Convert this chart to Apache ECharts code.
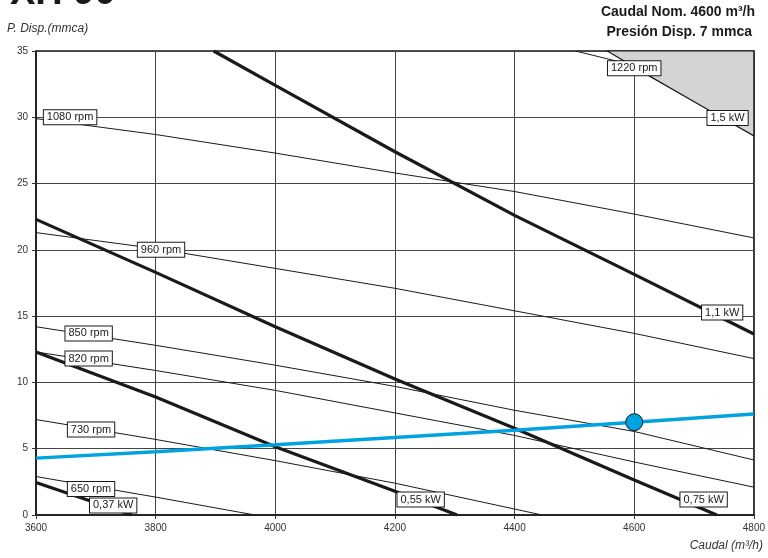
<!DOCTYPE html>
<html>
<head>
<meta charset="utf-8">
<script src="https://cdn.jsdelivr.net/npm/echarts@6/dist/echarts.min.js"></script>
<style>
html,body{margin:0;padding:0;background:#fff;}
#chart{width:768px;height:558px;}
</style>
</head>
<body>
<div id="chart"></div>
<script>
// ---- Data (caudal m3/h, presión mmca) ----
const rpm1220 = [[4502,35],[4610,33.8]];
const rpm1080 = [[3600,29.9],[3800,28.7],[4000,27.3],[4200,25.8],[4400,24.4],[4600,22.7],[4800,20.9]];
const rpm960  = [[3600,21.3],[3800,20.1],[4000,18.6],[4200,17.1],[4400,15.4],[4600,13.7],[4800,11.8]];
const rpm850  = [[3600,14.2],[3800,12.8],[4000,11.3],[4200,9.7],[4400,7.9],[4600,6.3],[4800,4.15]];
const rpm820  = [[3600,12.3],[3800,10.9],[4000,9.4],[4200,7.7],[4400,6.0],[4600,4.0],[4800,2.1]];
const rpm730  = [[3600,7.2],[3800,5.7],[4000,4.1],[4200,2.4],[4446,0]];
const rpm650  = [[3600,2.9],[3800,1.35],[3966,0]];

const kw037 = [[3600,2.45],[3760,0]];
const kw055 = [[3600,12.3],[3800,8.9],[4000,5.15],[4200,1.8],[4304,0]];
const kw075 = [[3600,22.3],[3800,18.3],[4000,14.2],[4200,10.26],[4400,6.54],[4600,2.64],[4738,0]];
const kw110 = [[3897,35],[4000,32.4],[4200,27.4],[4400,22.6],[4600,18.15],[4800,13.65]];
const kw150 = [[4555,35],[4622,33.2],[4722,30.6],[4800,28.6]];

const systemCurve = [[3600,4.29],[3800,4.78],[4000,5.29],[4200,5.84],[4400,6.40],[4600,7.0],[4800,7.62]];
const workPoint = [4600,7];

const curveLabels = ['1080 rpm','960 rpm','850 rpm','820 rpm','730 rpm','650 rpm','0,37 kW','0,55 kW','0,75 kW','1,1 kW','1,5 kW','1220 rpm'];
const labelQ = [3657,3809,3688,3688,3692,3692,3729,4243,4716,4747,4756,4600];
const labelP = [30.0,20.0,13.7,11.8,6.45,1.96,0.72,1.17,1.17,15.27,29.95,33.7];

const xMin = 3600, xMax = 4800, xStep = 200;
const yMin = 0, yMax = 35, yStep = 5;

// ---- Chart ----
const chart = echarts.init(document.getElementById('chart'), null, {renderer:'canvas'});
const FONT = '"Liberation Sans", Arial, sans-serif';

const thin = (data) => ({type:'line', data, symbol:'none', silent:true, z:3,
  lineStyle:{color:'#1a1a1a', width:1}});
const thick = (data) => ({type:'line', data, symbol:'none', silent:true, z:4,
  lineStyle:{color:'#1a1a1a', width:3.2}});

const grayZone = kw150.concat([[xMax, yMax]]);
const labelData = curveLabels.map((t,i) => [labelQ[i], labelP[i], t]);

chart.setOption({
  animation:false,
  backgroundColor:'#fff',
  textStyle:{fontFamily:FONT},
  grid:{left:36, right:13, top:51, bottom:43, show:true, borderColor:'#1a1a1a', borderWidth:1.5, backgroundColor:'transparent'},
  xAxis:{type:'value', min:xMin, max:xMax, interval:xStep,
    axisLine:{show:true, lineStyle:{color:'#1a1a1a', width:1.5}},
    axisTick:{show:true, length:4, lineStyle:{color:'#333'}},
    axisLabel:{fontSize:10, color:'#333', margin:8, fontFamily:FONT, formatter:(v)=>String(v)},
    splitLine:{show:true, lineStyle:{color:'#444', width:1}}},
  yAxis:{type:'value', min:yMin, max:yMax, interval:yStep,
    axisLine:{show:true, lineStyle:{color:'#1a1a1a', width:1.5}},
    axisTick:{show:true, length:4, lineStyle:{color:'#333'}},
    axisLabel:{fontSize:10, color:'#333', margin:8, fontFamily:FONT, formatter:(v)=>String(v)},
    splitLine:{show:true, lineStyle:{color:'#444', width:1}}},
  graphic:[
    {type:'text', left:10, top:-25, style:{text:'XH 90', font:'bold 38px '+FONT, fill:'#1a1a1a'}},
    {type:'text', left:7, top:23, style:{text:'P. Disp.(mmca)', font:'italic 12px '+FONT, fill:'#333'}},
    {type:'text', right:13, top:5, style:{text:'Caudal Nom. 4600 m³/h', font:'bold 14px '+FONT, fill:'#1a1a1a'}},
    {type:'text', right:16, top:25, style:{text:'Presión Disp. 7 mmca', font:'bold 14px '+FONT, fill:'#1a1a1a'}},
    {type:'text', right:5, top:540, style:{text:'Caudal (m³/h)', font:'italic 12px '+FONT, fill:'#333'}}
  ],
  series:[
    {type:'custom', data:grayZone, silent:true, z:2,
      renderItem:(params, api) => {
        if (params.dataIndex !== 0) return null;
        const pts = grayZone.map(p => api.coord(p));
        return {type:'polygon', shape:{points:pts}, style:{fill:'#d4d4d4', stroke:'#1a1a1a', lineWidth:1.2}};
      }},
    thin(rpm1220), thin(rpm1080), thin(rpm960), thin(rpm850), thin(rpm820), thin(rpm730), thin(rpm650),
    thick(kw037), thick(kw055), thick(kw075), thick(kw110),
    {type:'line', data:systemCurve, symbol:'none', silent:true, z:5,
      lineStyle:{color:'#00a3e0', width:3.5}},
    {type:'scatter', data:[workPoint], symbol:'circle', symbolSize:17, silent:true, z:6,
      itemStyle:{color:'#00a3e0', borderColor:'#1a1a1a', borderWidth:1, opacity:1}},
    {type:'scatter', data:labelData, symbolSize:0, silent:true, z:7,
      itemStyle:{color:'#ffffff', opacity:1},
      label:{show:true, position:'inside', formatter:(p)=>p.data[2],
        fontSize:11, color:'#1a1a1a', fontFamily:FONT, opacity:1,
        backgroundColor:'#ffffff', borderColor:'#1a1a1a', borderWidth:1, padding:[2,3,1,3]}}
  ]
});
</script>
</body>
</html>
